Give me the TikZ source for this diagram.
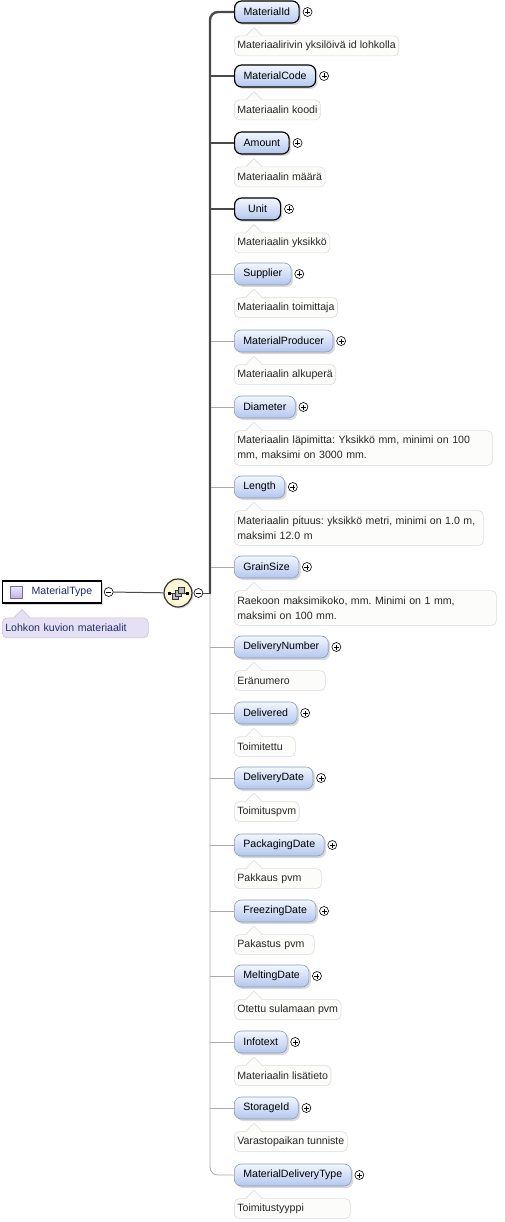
\documentclass[tikz,border=0pt]{standalone}
\usepackage{fontspec}
\setmainfont{Liberation Sans}
\frenchspacing
\usetikzlibrary{positioning,shadows}

\definecolor{elemtop}{HTML}{F3F7FE}
\definecolor{elembot}{HTML}{B2C7EE}
\definecolor{elemline}{HTML}{8C9BB5}
\definecolor{docfill}{HTML}{FCFCFA}
\definecolor{docline}{HTML}{DCDCDC}
\definecolor{rootdocfill}{HTML}{E6E1F2}
\definecolor{rootdocline}{HTML}{C9C0DE}
\definecolor{rootdoctext}{HTML}{1E2C6E}
\definecolor{icontop}{HTML}{EEE9FB}
\definecolor{iconbot}{HTML}{BFB1E8}
\definecolor{iconline}{HTML}{7A6AA8}
\definecolor{seqfill}{HTML}{F8F4C6}
\definecolor{spinecol}{HTML}{4A4A4A}
\definecolor{branchcol}{HTML}{ABABAB}

% little tip on top of a documentation box
\newcommand{\docnotch}[3]{%
  \fill[#1] ([xshift=12pt,yshift=-0.8pt]#3.north west) -- ++(8pt,8.8pt) -- ++(8pt,-8.8pt) -- cycle;
  \draw[#2, line width=0.6pt] ([xshift=12pt]#3.north west) -- ++(8pt,8pt) -- ++(8pt,-8pt);}

\begin{document}
\begin{tikzpicture}[x=1pt,y=-1pt,
	font=\fontsize{10.6}{15}\selectfont,
	elem/.style={anchor=west, rounded corners=7pt, draw=elemline, line width=0.6pt,
		top color=elemtop, bottom color=elembot, minimum height=22pt,
		inner xsep=9pt, inner ysep=2pt,
		drop shadow={shadow xshift=2pt, shadow yshift=-2pt, opacity=0.3}},
	must/.style={elem, draw=black, line width=1.2pt},
	doc/.style={anchor=north west, rounded corners=5pt, draw=docline, line width=0.6pt,
		fill=docfill, text=black!85, inner xsep=3pt, inner ysep=3pt,
		minimum height=20pt, align=left},
	doclong/.style={doc, minimum height=35pt},
	minus/.style={circle, draw=black, line width=0.6pt, fill=white, minimum size=9pt, inner sep=0pt,
		path picture={\draw[line width=0.6pt] ([xshift=-2.5pt]path picture bounding box.center) -- ([xshift=2.5pt]path picture bounding box.center);}},
	plus/.style={circle, draw=black, line width=0.6pt, fill=white, minimum size=9pt, inner sep=0pt,
		path picture={\draw[line width=0.6pt] ([xshift=-2.5pt]path picture bounding box.center) -- ([xshift=2.5pt]path picture bounding box.center)
			([yshift=-2.5pt]path picture bounding box.center) -- ([yshift=2.5pt]path picture bounding box.center);}},
	root/.style={anchor=west, draw=black, line width=1.2pt, fill=white, minimum height=22pt,
		inner xsep=9pt, text=rootdoctext,
		drop shadow={shadow xshift=2pt, shadow yshift=-2pt, opacity=0.3}},
	typeicon/.style={draw=iconline, line width=0.6pt, top color=icontop, bottom color=iconbot, minimum size=12pt, inner sep=0pt},
	seq/.style={circle, draw=black!80, line width=1.2pt, inner color=white, outer color=seqfill, minimum size=28pt,
		drop shadow={shadow xshift=1.5pt, shadow yshift=-1.5pt, opacity=0.3}},
	mustline/.style={draw=spinecol, line width=2.4pt},
	optline/.style={draw=branchcol, line width=0.8pt}]

	\useasboundingbox (0,0) rectangle (504,1222);

	% the type and its sequence
	\node[root] (mt) at (2,592) {\hspace{20pt}MaterialType};
	\node[typeicon] (mticon) at ([xshift=14pt]mt.west) {};
	\node[minus, right=2pt of mt] (mtm) {};
	\node[doc, fill=rootdocfill, draw=rootdocline, text=rootdoctext, text width=140pt,
		below=14pt of mt.south west, anchor=north west] (mtdoc) {Lohkon kuvion materiaalit};
	\docnotch{rootdocfill}{rootdocline}{mtdoc}

	\node[seq] (seq) at (178,593) {};
	\draw[spinecol, line width=1pt] (mtm) -- (seq);
	\draw[black!80, line width=0.8pt] ([xshift=-8pt]seq.center) -- ([xshift=9pt]seq.center);
	\fill[black] ([xshift=-10pt,yshift=-1.5pt]seq.center) rectangle ++(3pt,3pt);
	\fill[black] ([xshift=8pt,yshift=-1.5pt]seq.center) rectangle ++(2.5pt,3pt);
	\filldraw[fill=gray!55, draw=black!80, line width=0.5pt] ([xshift=-6pt,yshift=-6pt]seq.center) rectangle ++(6pt,6pt);
	\filldraw[fill=gray!55, draw=black!80, line width=0.5pt] ([xshift=-3pt,yshift=-3pt]seq.center) rectangle ++(6pt,6pt);
	\filldraw[fill=gray!55, draw=black!80, line width=0.5pt] ([xshift=0pt,yshift=0pt]seq.center) rectangle ++(6pt,6pt);
	\node[minus, right=1pt of seq] (seqm) {};
	\coordinate (spine) at (210,593);

	% required elements
	\node[must] (id) at (234,12) {MaterialId};
	\node[plus, right=3pt of id] (idp) {};
	\node[doc, below=12pt of id.south west, anchor=north west] (iddoc) {Materiaalirivin yksilöivä id lohkolla};
	\docnotch{docfill}{docline}{iddoc}

	\node[must] (code) at (234,76) {MaterialCode};
	\node[plus, right=3pt of code] (codep) {};
	\node[doc, below=12pt of code.south west, anchor=north west] (codedoc) {Materiaalin koodi};
	\docnotch{docfill}{docline}{codedoc}

	\node[must] (amount) at (234,143) {Amount};
	\node[plus, right=3pt of amount] (amountp) {};
	\node[doc, below=12pt of amount.south west, anchor=north west] (amountdoc) {Materiaalin määrä};
	\docnotch{docfill}{docline}{amountdoc}

	\node[must, minimum width=46pt] (unit) at (234,209) {Unit};
	\node[plus, right=3pt of unit] (unitp) {};
	\node[doc, below=12pt of unit.south west, anchor=north west] (unitdoc) {Materiaalin yksikkö};
	\docnotch{docfill}{docline}{unitdoc}

	% optional elements
	\node[elem] (supplier) at (234,274) {Supplier};
	\node[plus, right=3pt of supplier] (supplierp) {};
	\node[doc, below=12pt of supplier.south west, anchor=north west] (supplierdoc) {Materiaalin toimittaja};
	\docnotch{docfill}{docline}{supplierdoc}

	\node[elem] (producer) at (234,341) {MaterialProducer};
	\node[plus, right=3pt of producer] (producerp) {};
	\node[doc, below=12pt of producer.south west, anchor=north west] (producerdoc) {Materiaalin alkuperä};
	\docnotch{docfill}{docline}{producerdoc}

	\node[elem] (diameter) at (234,407) {Diameter};
	\node[plus, right=3pt of diameter] (diameterp) {};
	\node[doclong, text width=252pt, below=12pt of diameter.south west, anchor=north west] (diameterdoc)
		{\mbox{Materiaalin läpimitta: Yksikkö mm, minimi on 100}\\mm, maksimi on 3000 mm.};
	\docnotch{docfill}{docline}{diameterdoc}

	\node[elem] (length) at (234,487) {Length};
	\node[plus, right=3pt of length] (lengthp) {};
	\node[doclong, text width=243pt, below=12pt of length.south west, anchor=north west] (lengthdoc)
		{\mbox{Materiaalin pituus: yksikkö metri, minimi on 1.0 m,}\\maksimi 12.0 m};
	\docnotch{docfill}{docline}{lengthdoc}

	\node[elem] (grain) at (234,567) {GrainSize};
	\node[plus, right=3pt of grain] (grainp) {};
	\node[doclong, text width=256pt, below=12pt of grain.south west, anchor=north west] (graindoc)
		{Raekoon maksimikoko, mm. Minimi on 1 mm,\\maksimi on 100 mm.};
	\docnotch{docfill}{docline}{graindoc}

	\node[elem] (delnum) at (234,647) {DeliveryNumber};
	\node[plus, right=3pt of delnum] (delnump) {};
	\node[doc, text width=85pt, below=12pt of delnum.south west, anchor=north west] (delnumdoc) {Eränumero};
	\docnotch{docfill}{docline}{delnumdoc}

	\node[elem] (delivered) at (234,713) {Delivered};
	\node[plus, right=3pt of delivered] (deliveredp) {};
	\node[doc, text width=55pt, below=12pt of delivered.south west, anchor=north west] (delivereddoc) {Toimitettu};
	\docnotch{docfill}{docline}{delivereddoc}

	\node[elem] (deldate) at (234,778) {DeliveryDate};
	\node[plus, right=3pt of deldate] (deldatep) {};
	\node[doc, below=12pt of deldate.south west, anchor=north west] (deldatedoc) {Toimituspvm};
	\docnotch{docfill}{docline}{deldatedoc}

	\node[elem] (packdate) at (234,845) {PackagingDate};
	\node[plus, right=3pt of packdate] (packdatep) {};
	\node[doc, text width=81pt, below=12pt of packdate.south west, anchor=north west] (packdatedoc) {Pakkaus pvm};
	\docnotch{docfill}{docline}{packdatedoc}

	\node[elem] (freezedate) at (234,911) {FreezingDate};
	\node[plus, right=3pt of freezedate] (freezedatep) {};
	\node[doc, text width=74pt, below=12pt of freezedate.south west, anchor=north west] (freezedatedoc) {Pakastus pvm};
	\docnotch{docfill}{docline}{freezedatedoc}

	\node[elem] (meltdate) at (234,976) {MeltingDate};
	\node[plus, right=3pt of meltdate] (meltdatep) {};
	\node[doc, below=12pt of meltdate.south west, anchor=north west] (meltdatedoc) {Otettu sulamaan pvm};
	\docnotch{docfill}{docline}{meltdatedoc}

	\node[elem] (infotext) at (234,1042) {Infotext};
	\node[plus, right=3pt of infotext] (infotextp) {};
	\node[doc, below=12pt of infotext.south west, anchor=north west] (infotextdoc) {Materiaalin lisätieto};
	\docnotch{docfill}{docline}{infotextdoc}

	\node[elem] (storage) at (234,1108) {StorageId};
	\node[plus, right=3pt of storage] (storagep) {};
	\node[doc, below=12pt of storage.south west, anchor=north west] (storagedoc) {Varastopaikan tunniste};
	\docnotch{docfill}{docline}{storagedoc}

	\node[elem] (deltype) at (234,1175) {MaterialDeliveryType};
	\node[plus, right=3pt of deltype] (deltypep) {};
	\node[doc, text width=110pt, below=12pt of deltype.south west, anchor=north west] (deltypedoc) {Toimitustyyppi};
	\docnotch{docfill}{docline}{deltypedoc}

	% connectors
	\draw[optline, rounded corners=8pt] (spine) -- (spine |- deltype.west) -- (deltype.west);
	\draw[optline] (spine |- supplier.west) -- (supplier.west);
	\draw[optline] (spine |- producer.west) -- (producer.west);
	\draw[optline] (spine |- diameter.west) -- (diameter.west);
	\draw[optline] (spine |- length.west) -- (length.west);
	\draw[optline] (spine |- grain.west) -- (grain.west);
	\draw[optline] (spine |- delnum.west) -- (delnum.west);
	\draw[optline] (spine |- delivered.west) -- (delivered.west);
	\draw[optline] (spine |- deldate.west) -- (deldate.west);
	\draw[optline] (spine |- packdate.west) -- (packdate.west);
	\draw[optline] (spine |- freezedate.west) -- (freezedate.west);
	\draw[optline] (spine |- meltdate.west) -- (meltdate.west);
	\draw[optline] (spine |- infotext.west) -- (infotext.west);
	\draw[optline] (spine |- storage.west) -- (storage.west);
	\draw[mustline, rounded corners=8pt] ([yshift=-1.2pt]spine) -- (spine |- id.west) -- (id.west);
	\draw[mustline] (spine |- code.west) -- (code.west);
	\draw[mustline] (spine |- amount.west) -- (amount.west);
	\draw[mustline] (spine |- unit.west) -- (unit.west);
	\draw[spinecol, line width=1pt] (seqm.east) -- (spine);
\end{tikzpicture}
\end{document}
